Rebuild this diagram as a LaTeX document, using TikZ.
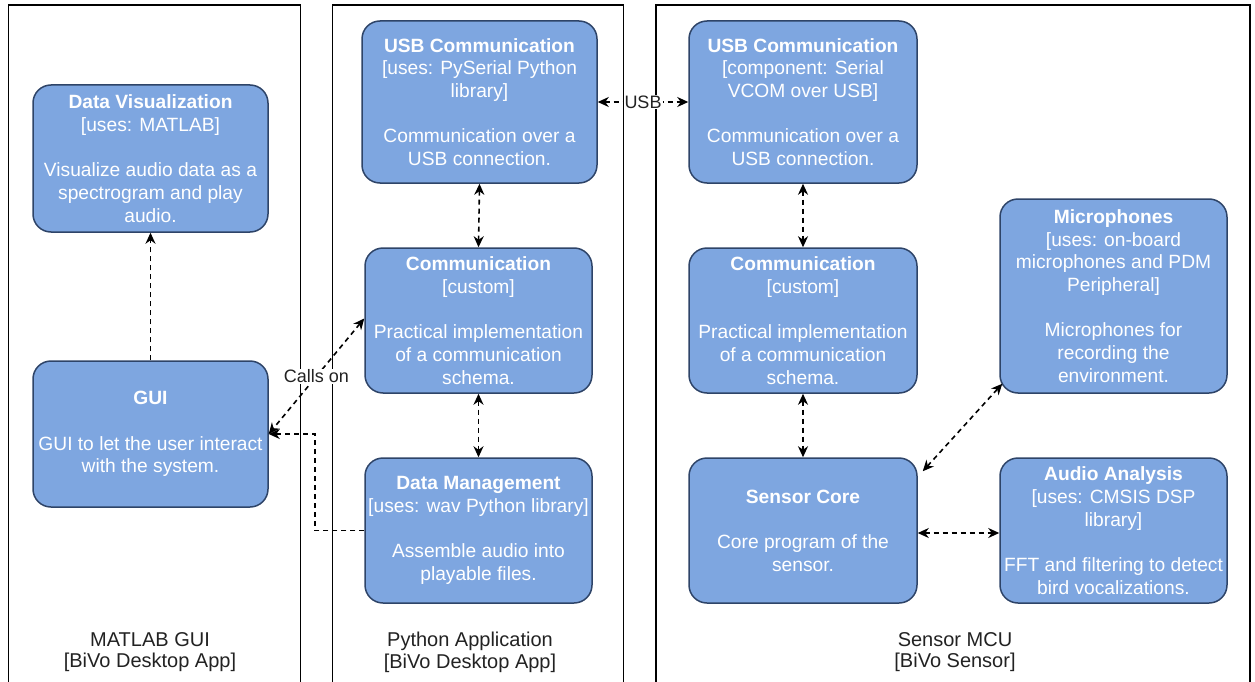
\documentclass[tikz,border=0pt]{standalone}
\usepackage{fontspec}
\setmainfont{Liberation Sans}
\usetikzlibrary{arrows.meta}
\definecolor{boxfill}{HTML}{7EA6E0}
\definecolor{boxline}{HTML}{2E4468}
\definecolor{labtext}{HTML}{222222}
\tikzset{
  comp/.style={draw=boxline, fill=boxfill, line width=1.5pt, rounded corners=18pt,
    inner sep=0pt, align=center, text=white,
    font=\fontsize{19.2}{22.7}\selectfont},
  cont/.style={draw=black, line width=1.4pt},
  contlabel/.style={align=center, text=labtext, font=\fontsize{20}{21.7}\selectfont},
  conn/.style={draw=black, line width=1.6pt, dash pattern=on 5pt off 4pt},
  tip/.style={-{Stealth[length=11pt,width=10pt,inset=3.5pt]}},
  bitip/.style={{Stealth[length=11pt,width=10pt,inset=3.5pt]}-{Stealth[length=11pt,width=10pt,inset=3.5pt]}},
  elabel/.style={fill=white, inner sep=1pt, text=labtext, font=\fontsize{18}{20}\selectfont}
}
\newcommand{\ttl}[1]{\textbf{#1}}
\begin{document}
\begin{tikzpicture}[x=1pt, y=-1pt]
\useasboundingbox (0,0) rectangle (1255,682);
% containers
\draw[cont] (8.5,690) -- (8.5,5) -- (300.5,5) -- (300.5,690);
\draw[cont] (332.5,690) -- (332.5,5) -- (623.5,5) -- (623.5,690);
\draw[cont] (656,690) -- (656,5) -- (1250,5) -- (1250,690);
\node[contlabel] (l1) at (150,652) {MATLAB GUI\\{[BiVo Desktop App]}};
\node[contlabel] (l2) at (470,652) {Python Application\\{[BiVo Desktop App]}};
\node[contlabel] (l3) at (955,652) {Sensor MCU\\{[BiVo Sensor]}};
% components
\node[comp, minimum width=235pt, minimum height=147pt] (dv) at (150.5,158.5)
  {\ttl{Data Visualization}\\{[uses: MATLAB]}\\[22.7pt]Visualize audio data as a\\spectrogram and play\\audio.};
\node[comp, minimum width=235pt, minimum height=146pt] (gui) at (150.5,434)
  {\ttl{GUI}\\[22.7pt]GUI to let the user interact\\with the system.};
\node[comp, minimum width=235pt, minimum height=162pt] (usbp) at (479.5,102)
  {\ttl{USB Communication}\\{[uses: PySerial Python}\\library]\\[22.7pt]Communication over a\\USB connection.};
\node[comp, minimum width=227pt, minimum height=145pt] (comp) at (478.5,320.5)
  {\ttl{Communication}\\{[custom]}\\[22.7pt]Practical implementation\\of a communication\\schema.};
\node[comp, minimum width=227pt, minimum height=145pt] (dm) at (478.5,530.5)
  {\ttl{Data Management}\\{[uses: wav Python library]}\\[22.7pt]Assemble audio into\\playable files.};
\node[comp, minimum width=228pt, minimum height=162pt] (usbs) at (803,102)
  {\ttl{USB Communication}\\{[component: Serial}\\VCOM over USB]\\[22.7pt]Communication over a\\USB connection.};
\node[comp, minimum width=228pt, minimum height=145pt] (coms) at (803,320.5)
  {\ttl{Communication}\\{[custom]}\\[22.7pt]Practical implementation\\of a communication\\schema.};
\node[comp, minimum width=228pt, minimum height=145pt] (sc) at (803,530.5)
  {\ttl{Sensor Core}\\[22.7pt]Core program of the\\sensor.};
\node[comp, minimum width=227pt, minimum height=194pt] (mic) at (1113.5,296)
  {\ttl{Microphones}\\{[uses: on-board}\\microphones and PDM\\Peripheral]\\[22.7pt]Microphones for\\recording the\\environment.};
\node[comp, minimum width=227pt, minimum height=145pt] (aa) at (1113.5,530.5)
  {\ttl{Audio Analysis}\\{[uses: CMSIS DSP}\\library]\\[22.7pt]FFT and filtering to detect\\bird vocalizations.};
% connectors
\draw[conn, tip] (gui.north) -- (dv.south);
\draw[conn, bitip] (usbp.south) -- (comp.north);
\draw[conn, bitip] (comp.south) -- (dm.north);
\draw[conn, bitip] (usbs.south) -- (coms.north);
\draw[conn, bitip] (coms.south) -- (sc.north);
\draw[conn, bitip] (usbp.east) -- node[elabel] (usblab) {USB} (usbs.west);
\draw[conn, bitip] ([yshift=2pt]comp.west) -- node[elabel, pos=0.5] (calls) {Calls on} (gui.east);
\draw[conn, tip] (dm.west) -- ([xshift=-49pt]dm.west) |- (gui.east);
\draw[conn, bitip] ([shift={(5pt,-14pt)}]sc.north east) -- ([shift={(3pt,10pt)}]mic.south west);
\draw[conn, bitip] ([yshift=-2.5pt]sc.east) -- ([yshift=-2.5pt]aa.west);
\end{tikzpicture}
\end{document}
